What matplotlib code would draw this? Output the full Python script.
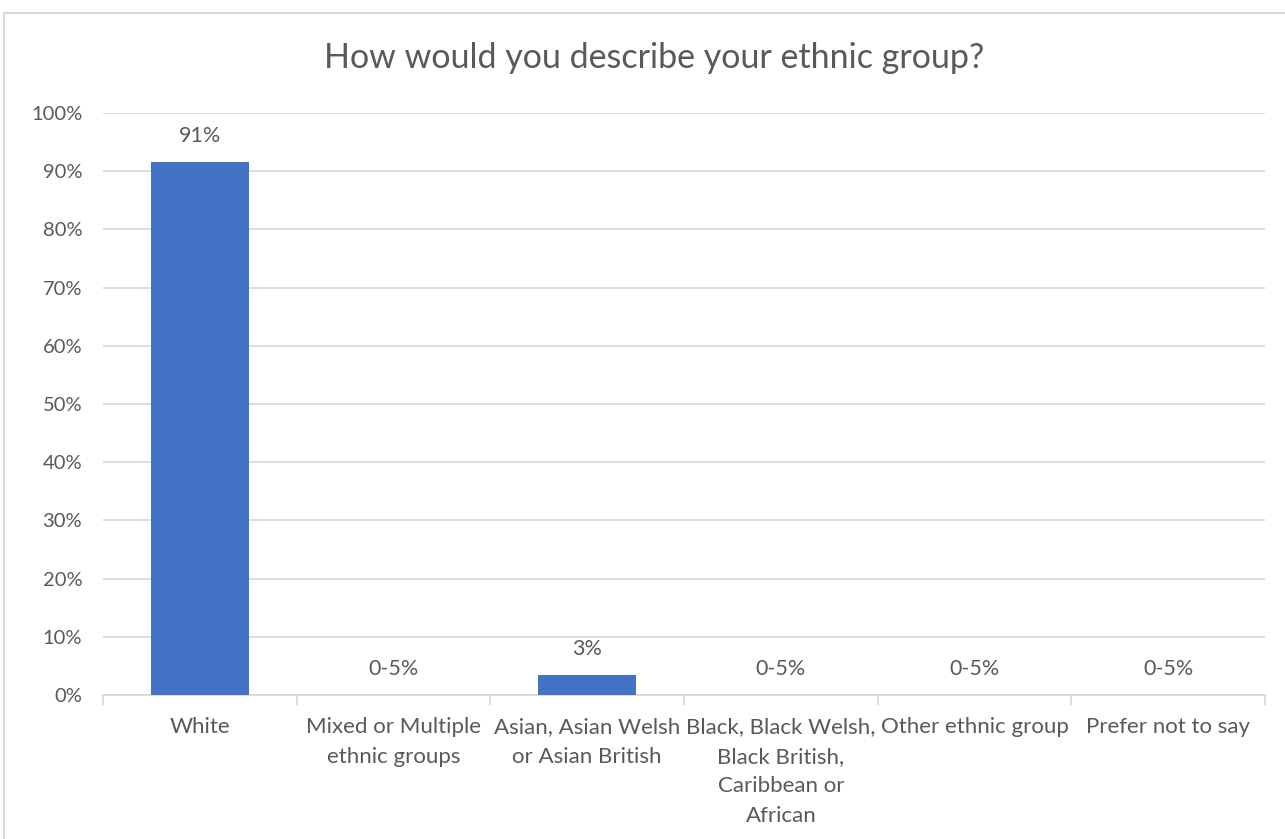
import matplotlib.pyplot as plt
from matplotlib.patches import Rectangle
from matplotlib.ticker import FixedLocator, PercentFormatter

categories = [
    "White",
    "Mixed or Multiple\nethnic groups",
    "Asian, Asian Welsh\nor Asian British",
    "Black, Black Welsh,\nBlack British,\nCaribbean or\nAfrican",
    "Other ethnic group",
    "Prefer not to say",
]
values = [91.5, 0, 3.4, 0, 0, 0]
labels = ["91%", "0-5%", "3%", "0-5%", "0-5%", "0-5%"]

plt.rcParams["font.family"] = ["Lato", "DejaVu Sans"]
text_col = "#595959"
grid_col = "#d9d9d9"

fig = plt.figure(figsize=(12.85, 8.39), dpi=100)
ax = fig.add_axes([0.0802, 0.1716, 0.9042, 0.6937])

x = list(range(len(categories)))
ax.bar(x, values, width=0.505, color="#4472C4", zorder=3)

for xi, v, lab in zip(x, values, labels):
    ax.annotate(lab, (xi, v), xytext=(0, 19), textcoords="offset points",
                ha="center", va="center", fontsize=15.5, color=text_col)

ax.set_xlim(-0.5, len(categories) - 0.5)
ax.set_ylim(0, 100)
ax.set_yticks(range(0, 101, 10))
ax.yaxis.set_major_formatter(PercentFormatter(decimals=0))
ax.grid(axis="y", color=grid_col, linewidth=1.3, zorder=0)

ax.set_xticks(x)
ax.set_xticklabels(categories, fontsize=16, color=text_col, linespacing=1.6)
ax.tick_params(axis="x", length=0, pad=16)
ax.xaxis.set_minor_locator(FixedLocator([i - 0.5 for i in range(len(categories) + 1)]))
ax.tick_params(axis="x", which="minor", length=7, color=grid_col, width=1.3)
ax.tick_params(axis="y", length=0, labelsize=14.5, labelcolor=text_col, pad=15)

for s in ["top", "right", "left"]:
    ax.spines[s].set_visible(False)
ax.spines["bottom"].set_color(grid_col)
ax.spines["bottom"].set_linewidth(1.3)

fig.text(654 / 1285, 1 - 58 / 839, "How would you describe your ethnic group?",
         ha="center", va="center", fontsize=24.5, color=text_col)

fig.patches.append(Rectangle((4 / 1285, -0.01), 1.02, 1 - 13 / 839 + 0.01,
                             transform=fig.transFigure, fill=False,
                             edgecolor=grid_col, linewidth=1.5))

fig.savefig("out.png", dpi=100)
